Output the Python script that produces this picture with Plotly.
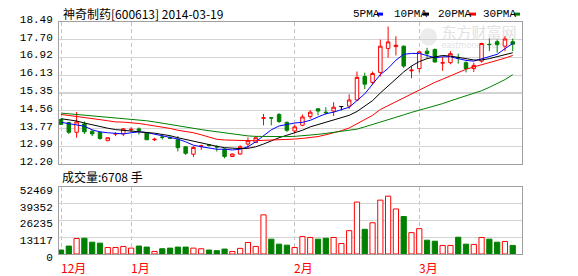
import plotly.graph_objects as go

# ---------------- data ----------------
dates = ["2013-12-19","2013-12-20","2013-12-23","2013-12-24","2013-12-25","2013-12-26","2013-12-27","2013-12-30","2013-12-31",
         "2014-01-02","2014-01-03","2014-01-06","2014-01-07","2014-01-08","2014-01-09","2014-01-10","2014-01-13","2014-01-14",
         "2014-01-15","2014-01-16","2014-01-17","2014-01-20","2014-01-21","2014-01-22","2014-01-23","2014-01-24","2014-01-27",
         "2014-01-28","2014-01-29","2014-01-30",
         "2014-02-07","2014-02-10","2014-02-11","2014-02-12","2014-02-13","2014-02-14","2014-02-17","2014-02-18","2014-02-19",
         "2014-02-20","2014-02-21","2014-02-24","2014-02-25","2014-02-26","2014-02-27","2014-02-28",
         "2014-03-03","2014-03-04","2014-03-05","2014-03-06","2014-03-07","2014-03-10","2014-03-11","2014-03-12","2014-03-13",
         "2014-03-14","2014-03-17","2014-03-18","2014-03-19"]

opens = [14.18,14.04,13.61,13.98,13.66,13.61,13.24,13.53,13.54,13.72,
         13.76,13.59,13.28,13.40,13.36,13.28,12.97,12.64,12.99,13.05,
         12.97,12.87,12.54,12.65,13.09,13.16,14.23,14.25,14.40,14.05,
         13.67,13.92,14.31,14.65,14.50,14.55,14.75,14.77,15.04,16.08,
         15.82,16.26,17.32,17.40,17.42,16.33,16.43,17.20,17.27,16.67,
         16.69,16.92,16.69,16.43,16.76,17.50,17.62,17.42,17.62]
highs = [14.22,14.06,14.51,14.09,13.70,13.63,13.38,13.61,13.80,13.83,
         13.83,13.63,13.37,13.48,13.44,13.44,12.99,13.00,13.06,13.08,
         13.04,12.90,12.66,13.04,13.38,13.44,14.42,14.27,14.46,14.09,
         13.95,14.40,14.59,14.66,14.72,14.94,14.75,15.29,16.30,16.25,
         16.30,17.71,18.29,17.86,17.45,16.54,17.20,17.35,17.32,16.95,
         17.20,17.09,16.75,16.69,17.57,17.76,17.71,17.86,17.76]
lows = [13.93,13.53,13.37,13.54,13.44,13.28,13.22,13.44,13.44,13.63,
        13.51,13.27,13.22,13.29,13.31,12.76,12.61,12.52,12.83,12.98,
        12.76,12.46,12.52,12.61,12.90,13.14,13.92,13.92,14.02,13.63,
        13.56,13.88,14.21,14.36,14.39,14.33,14.58,14.65,15.01,15.52,
        15.71,16.08,16.91,17.01,16.46,16.00,16.26,16.91,16.70,16.33,
        16.62,16.65,16.26,16.28,16.69,17.20,17.13,17.20,17.20]
closes = [13.96,13.61,14.07,13.63,13.54,13.34,13.37,13.55,13.76,13.74,
          13.69,13.28,13.30,13.39,13.35,12.93,12.68,12.94,13.01,13.04,
          12.96,12.54,12.65,12.97,13.24,13.37,14.25,14.24,14.09,13.70,
          13.85,14.29,14.50,14.55,14.48,14.72,14.75,15.04,16.04,15.74,
          16.21,17.42,17.61,17.46,16.54,16.36,17.17,17.09,16.72,16.69,
          17.09,16.91,16.43,16.57,17.54,17.49,17.49,17.74,17.51]
volumes = [3100,6200,12100,12300,9250,8500,5100,5100,5900,4600,
           6200,5400,2000,4100,4600,5400,5400,4600,4100,3100,
           2600,3850,2000,4400,9000,5900,30600,11600,7700,6900,
           5100,13600,12900,11600,12300,12900,8200,18200,40600,19300,
           24400,42100,45200,35200,29300,16700,19800,10800,10000,6700,
           6700,13100,7700,7500,12900,11600,9250,9800,6708]

ma5 = [14.05,13.99,13.92,13.88,13.72,13.63,13.59,13.56,13.54,13.59,
       13.63,13.60,13.53,13.48,13.41,13.31,13.19,13.04,12.97,12.93,
       12.86,12.86,12.83,12.86,12.97,13.19,13.46,13.72,13.89,13.96,
       14.02,14.05,14.14,14.29,14.43,14.50,14.61,14.72,15.01,15.31,
       15.74,16.16,16.44,16.80,17.06,17.10,17.10,17.02,16.91,16.95,
       16.95,16.87,16.79,16.76,16.87,16.95,17.06,17.31,17.54]
ma10 = [14.21,14.17,14.11,14.02,13.94,13.85,13.79,13.73,13.69,13.66,
        13.63,13.60,13.57,13.53,13.46,13.37,13.29,13.22,13.14,13.06,
        12.99,12.93,12.90,12.89,12.90,12.97,13.09,13.24,13.37,13.48,
        13.59,13.70,13.85,13.95,14.04,14.14,14.26,14.36,14.53,14.77,
        15.01,15.35,15.67,15.96,16.28,16.54,16.74,16.87,16.95,17.01,
        16.98,16.94,16.87,16.81,16.81,16.87,16.95,17.04,17.13]
ma20 = [14.40,14.36,14.31,14.27,14.22,14.17,14.12,14.07,14.06,14.04,
        14.00,13.95,13.90,13.85,13.78,13.70,13.65,13.59,13.50,13.40,
        13.30,13.27,13.25,13.25,13.24,13.24,13.25,13.25,13.26,13.28,
        13.31,13.34,13.37,13.42,13.50,13.58,13.68,13.80,13.98,14.15,
        14.36,14.62,14.79,14.97,15.16,15.32,15.49,15.67,15.82,15.96,
        16.11,16.25,16.40,16.50,16.59,16.69,16.79,16.89,17.01]
ma30 = [14.46,14.43,14.40,14.36,14.33,14.30,14.27,14.24,14.21,14.19,
        14.17,14.12,14.07,14.01,13.95,13.89,13.82,13.77,13.73,13.68,
        13.63,13.58,13.53,13.48,13.45,13.43,13.42,13.41,13.41,13.42,
        13.43,13.45,13.48,13.52,13.56,13.60,13.66,13.70,13.75,13.85,
        13.95,14.05,14.16,14.27,14.38,14.49,14.58,14.67,14.76,14.88,
        15.00,15.11,15.22,15.34,15.45,15.60,15.76,15.94,16.16]

price_ticks = [12.20, 12.99, 13.77, 14.56, 15.35, 16.13, 16.92, 17.70, 18.49]
price_tick_text = ["12.20", "12.99", "13.77", "14.56", "15.35", "16.13", "16.92", "17.70", "18.49"]
vol_ticks = [0, 13117, 26235, 39352, 52469]
vol_tick_text = ["0", "13117", "26235", "39352", "52469"]
month_dates = ["2013-12-19", "2014-01-02", "2014-02-07", "2014-03-03"]
month_labels = ["12月", "1月", "2月", "3月"]
ma_names = ["5PMA", "10PMA", "20PMA", "30PMA"]
ma_colors = ["#0000ff", "#000000", "#ff0000", "#008000"]
title_text = "神奇制药[600613] 2014-03-19"
vol_text = "成交量:6708 手"

# ---------------- layout geometry ----------------
W, H = 578, 276
L, R, T, B = 59, 56, 22, 19
PW, PH = W - L - R, H - T - B

def px_x(px):
    return (px - L) / PW

def px_y(py):
    return (H - B - py) / PH

RED = "#ff0000"
GREEN = "#008000"
GRID = "#d4d4d4"
FRAME = "#a0a0a0"
MONO = "Liberation Mono"
CJK = "Noto Sans CJK SC"

fig = go.Figure()

# moving averages
for name, col, vals in zip(ma_names, ma_colors, [ma5, ma10, ma20, ma30]):
    fig.add_trace(go.Scatter(x=dates, y=vals, mode="lines", line=dict(color=col, width=1),
                             name=name, hoverinfo="skip", xaxis="x", yaxis="y"))

# candles (non-flat)
idx = [i for i in range(len(dates)) if closes[i] != opens[i]]
fig.add_trace(go.Candlestick(
    x=[dates[i] for i in idx], open=[opens[i] for i in idx], high=[highs[i] for i in idx],
    low=[lows[i] for i in idx], close=[closes[i] for i in idx],
    increasing=dict(line=dict(color=RED, width=1), fillcolor="#ffffff"),
    decreasing=dict(line=dict(color=GREEN, width=1), fillcolor=GREEN),
    whiskerwidth=0, hoverinfo="skip", xaxis="x", yaxis="y"))
# flat candles (open == close) drawn black
fidx = [i for i in range(len(dates)) if closes[i] == opens[i]]
if fidx:
    fig.add_trace(go.Candlestick(
        x=[dates[i] for i in fidx], open=[opens[i] for i in fidx], high=[highs[i] for i in fidx],
        low=[lows[i] for i in fidx], close=[closes[i] for i in fidx],
        increasing=dict(line=dict(color="#000000", width=1), fillcolor="#000000"),
        decreasing=dict(line=dict(color="#000000", width=1), fillcolor="#000000"),
        whiskerwidth=0, hoverinfo="skip", xaxis="x", yaxis="y"))

# volume
up = [closes[i] >= opens[i] for i in range(len(dates))]
fig.add_trace(go.Bar(
    x=dates, y=volumes, xaxis="x2", yaxis="y2", hoverinfo="skip",
    marker=dict(color=["#ffffff" if u else GREEN for u in up],
                line=dict(color=[RED if u else GREEN for u in up], width=1))))

xcommon = dict(type="category", categoryorder="array", categoryarray=dates,
               range=[-0.26, len(dates) - 1 + 1.19], tickvals=month_dates,
               showticklabels=False, ticks="", showgrid=True, gridcolor="#c4c4c4",
               griddash="4px,3px", gridwidth=1, showline=True, mirror=True,
               linecolor=FRAME, linewidth=1, zeroline=False, fixedrange=True)

fig.update_layout(
    width=W, height=H, margin=dict(l=L, r=R, t=T, b=B, pad=0),
    paper_bgcolor="#ffffff", plot_bgcolor="#ffffff", showlegend=False,
    boxgap=0.36, bargap=0.33,
    xaxis=dict(**xcommon, anchor="y", domain=[0, 1], rangeslider=dict(visible=False)),
    xaxis2=dict(**xcommon, anchor="y2", domain=[0, 1]),
    yaxis=dict(domain=[px_y(166), 1], range=[price_ticks[0], price_ticks[-1]],
               tickvals=price_ticks, ticktext=price_tick_text, ticks="",
               showgrid=True, gridcolor=GRID, gridwidth=1, zeroline=False,
               showline=True, mirror=True, linecolor=FRAME, linewidth=1,
               tickfont=dict(family=MONO, size=11, color="#000000"),
               ticklabelshift=-3, ticklabelstandoff=3, anchor="x", fixedrange=True),
    yaxis2=dict(domain=[0, px_y(189)], range=[vol_ticks[0], vol_ticks[-1]],
                tickvals=vol_ticks, ticktext=vol_tick_text, ticks="",
                showgrid=True, gridcolor=GRID, gridwidth=1, zeroline=False,
                showline=True, mirror=True, linecolor=FRAME, linewidth=1,
                tickfont=dict(family=MONO, size=11, color="#000000"),
                ticklabelshift=3, ticklabelstandoff=3, anchor="x2", fixedrange=True),
)

shapes = []
# darker middle grid line in the price panel
shapes.append(dict(type="line", xref="x domain", x0=0, x1=1, yref="y",
                   y0=price_ticks[4], y1=price_ticks[4], line=dict(color=FRAME, width=1), layer="below"))
# watermark (beneath candles)
shapes.append(dict(type="rect", xref="x domain", yref="y domain",
                   x0=px_x(438), x1=px_x(520), y0=(166 - 41) / 144, y1=(166 - 26) / 144,
                   line=dict(width=0), layer="below",
                   label=dict(text="东方财富网", font=dict(family=CJK, size=15, color="#e2e2e2"))))
shapes.append(dict(type="rect", xref="x domain", yref="y domain",
                   x0=px_x(438), x1=px_x(508), y0=(166 - 49) / 144, y1=(166 - 41) / 144,
                   line=dict(width=0), layer="below",
                   label=dict(text="eastmoney.com", font=dict(family="DejaVu Sans", size=8, color="#e2e2e2"))))
shapes.append(dict(type="circle", xref="x domain", yref="y domain",
                   x0=px_x(420), x1=px_x(437), y0=(166 - 46) / 144, y1=(166 - 28) / 144,
                   line=dict(width=0), fillcolor="#ececec", layer="below"))

annotations = []
annotations.append(dict(text=title_text, xref="paper", yref="paper", x=px_x(61), y=px_y(13),
                        xanchor="left", yanchor="middle", showarrow=False,
                        font=dict(family=CJK, size=12, color="#000000")))
annotations.append(dict(text=vol_text, xref="paper", yref="paper", x=px_x(60), y=px_y(179),
                        xanchor="left", yanchor="middle", showarrow=False,
                        font=dict(family=CJK, size=12, color="#000000")))
# legend
legend_text_px = [351, 392, 436, 481]
legend_sq_px = [377, 423, 470, 514]
for name, col, tx, sx in zip(ma_names, ma_colors, legend_text_px, legend_sq_px):
    annotations.append(dict(text=name, xref="paper", yref="paper", x=px_x(tx), y=px_y(14),
                            xanchor="left", yanchor="middle", showarrow=False,
                            font=dict(family=MONO, size=11, color="#000000")))
    shapes.append(dict(type="rect", xref="paper", yref="paper", x0=px_x(sx), x1=px_x(sx + 6),
                       y0=px_y(15.5), y1=px_y(12.5), line=dict(width=0), fillcolor=col))
# month labels
for d, lab in zip(month_dates, month_labels):
    annotations.append(dict(text=lab, xref="x2", yref="paper", x=d, y=0, xshift=-2.5, yshift=-3,
                            xanchor="left", yanchor="top", showarrow=False,
                            font=dict(family=CJK, size=12, color=RED)))

fig.update_layout(shapes=shapes, annotations=annotations)

fig.write_html("out.html", config=dict(displayModeBar=False, staticPlot=True))
